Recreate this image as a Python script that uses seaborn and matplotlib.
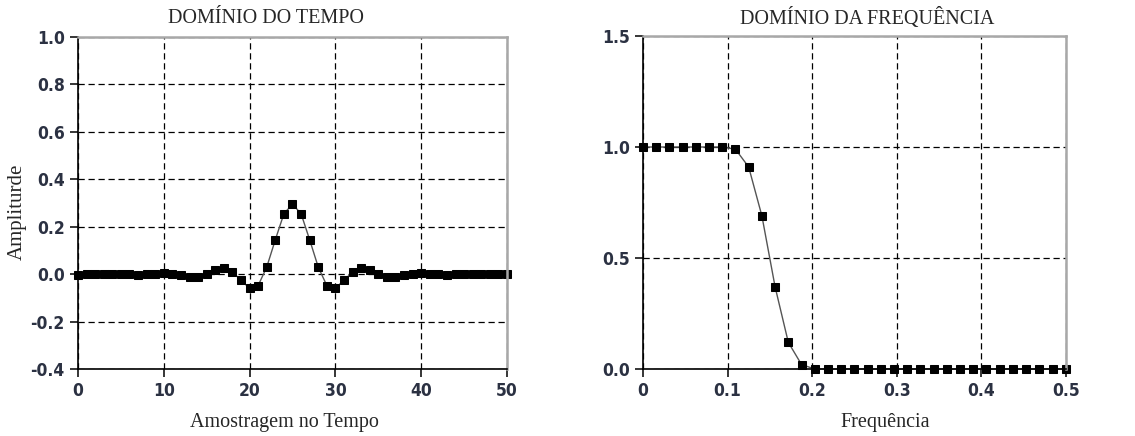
import pandas as pd
import matplotlib
matplotlib.use("Agg")
import matplotlib.pyplot as plt
import seaborn as sns

# time domain samples (filter kernel)
amostras = list(range(51))
amplitude = [
    -0.003, 0.0, 0.0, 0.002, 0.002, 0.0, 0.0, -0.005, 0.0, 0.002,
    0.003, 0.002, -0.005, -0.012, -0.012, 0.0, 0.018, 0.025, 0.008, -0.025,
    -0.06, -0.048, 0.03, 0.145, 0.255, 0.295, 0.255, 0.145, 0.03, -0.048,
    -0.06, -0.025, 0.008, 0.025, 0.018, 0.0, -0.012, -0.012, -0.005, 0.002,
    0.003, 0.002, 0.0, -0.005, 0.0, 0.0, 0.002, 0.002, 0.0, 0.0, 0.0,
]

# frequency response, k/64
freq_k = list(range(33))
resposta = [1.0, 1.0, 1.0, 1.0, 1.0, 1.0, 1.0, 0.99, 0.91, 0.69, 0.37, 0.12, 0.02] + [0.0] * 20

t_xticks = [0, 10, 20, 30, 40, 50]
t_yticks = [-0.4, -0.2, 0.0, 0.2, 0.4, 0.6, 0.8, 1.0]
f_xticks = [0, 0.1, 0.2, 0.3, 0.4, 0.5]
f_xlabels = ["0", "0.1", "0.2", "0.3", "0.4", "0.5"]
f_yticks = [0.0, 0.5, 1.0, 1.5]

df_t = pd.DataFrame({"n": amostras, "amp": amplitude})
df_f = pd.DataFrame({"f": [k / 64 for k in freq_k], "mag": resposta})

sns.set_style("white")
plt.rcParams["font.family"] = ["DejaVu Sans"]
serif = ["Liberation Serif", "DejaVu Serif"]
tick_col = "#2b3142"

fig = plt.figure(figsize=(11.35, 4.36), dpi=100)
ax1 = fig.add_axes([0.0687, 0.1537, 0.378, 0.7613])
ax2 = fig.add_axes([0.5665, 0.1537, 0.3725, 0.7637])


def style(ax):
    ax.grid(True, color="black", linestyle=(0, (5, 3)), linewidth=0.9)
    ax.set_axisbelow(True)
    for s in ["left", "bottom"]:
        ax.spines[s].set_color("black")
        ax.spines[s].set_linewidth(1.2)
    for s in ["top", "right"]:
        ax.spines[s].set_color("#a8a8a8")
        ax.spines[s].set_linewidth(1.8)
    ax.tick_params(axis="both", direction="out", length=6, width=1.1, color="black",
                   labelsize=12.5, labelcolor=tick_col, left=True, bottom=True)
    for lab in ax.get_xticklabels() + ax.get_yticklabels():
        lab.set_fontweight("bold")
        lab.set_fontstretch("condensed")
    ax.set_xlabel("")
    ax.set_ylabel("")


sns.lineplot(data=df_t, x="n", y="amp", ax=ax1, color="#555555", linewidth=1.0,
             marker="s", markersize=6, markerfacecolor="black", markeredgecolor="black",
             clip_on=False)
ax1.set_xlim(0, 50)
ax1.set_ylim(-0.4, 1.0)
ax1.set_xticks(t_xticks)
ax1.set_xticklabels([str(v) for v in t_xticks])
ax1.set_yticks(t_yticks)
ax1.set_yticklabels([f"{v:.1f}" for v in t_yticks])
style(ax1)

sns.lineplot(data=df_f, x="f", y="mag", ax=ax2, color="#555555", linewidth=1.0,
             marker="s", markersize=6, markerfacecolor="black", markeredgecolor="black",
             clip_on=False)
ax2.set_xlim(0, 0.5)
ax2.set_ylim(0, 1.5)
ax2.set_xticks(f_xticks)
ax2.set_xticklabels(f_xlabels)
ax2.set_yticks(f_yticks)
ax2.set_yticklabels([f"{v:.1f}" for v in f_yticks])
style(ax2)

fig.text(0.2344, 0.958, "DOMÍNIO DO TEMPO", ha="center", va="center", fontsize=14.5, family=serif)
fig.text(0.764, 0.958, "DOMÍNIO DA FREQUÊNCIA", ha="center", va="center", fontsize=14.5, family=serif)
fig.text(0.251, 0.032, "Amostragem no Tempo", ha="center", va="center", fontsize=14.5, family=serif)
fig.text(0.78, 0.032, "Frequência", ha="center", va="center", fontsize=14.5, family=serif)
fig.text(0.015, 0.514, "Ampliturde", ha="center", va="center", rotation=90, fontsize=15, family=serif)

fig.savefig("out.png", dpi=100)
